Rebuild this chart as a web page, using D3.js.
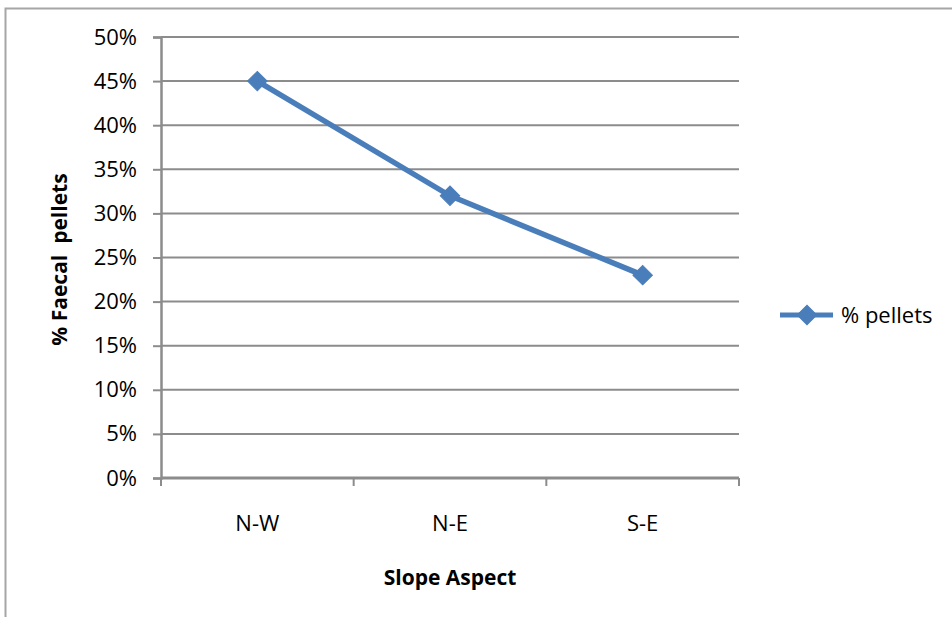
<!DOCTYPE html>
<html>
<head>
<meta charset="utf-8">
<script src="https://cdn.jsdelivr.net/npm/d3@7"></script>
<style>
  html, body { margin: 0; padding: 0; background: #fff; }
  svg { display: block; }
  text { font-family: "Open Sans", "Noto Sans", sans-serif; fill: #000; }
</style>
</head>
<body>
<script>
// Share of faecal pellets by slope aspect
const categories = ["N-W", "N-E", "S-E"];
const pellets = [0.45, 0.32, 0.23];
const yTicks = [0, 0.05, 0.10, 0.15, 0.20, 0.25, 0.30, 0.35, 0.40, 0.45, 0.50];
const seriesName = "% pellets";
const xTitle = "Slope Aspect";
const yTitle = "% Faecal  pellets";

const W = 952, H = 617;
const plot = { left: 161, right: 739, top: 37, bottom: 478 };
const blue = "#4a7ebb";
const grey = "#8c8c8c";
const labelSize = "22px";
const titleSize = "21px";

const svg = d3.select("body").append("svg").attr("width", W).attr("height", H);

// chart frame
svg.append("rect")
  .attr("x", 5.5).attr("y", 8.5)
  .attr("width", W + 10).attr("height", H + 10)
  .attr("fill", "none").attr("stroke", "#a6a6a6").attr("stroke-width", 2);

const x = d3.scaleBand().domain(categories).range([plot.left, plot.right]);
const y = d3.scaleLinear().domain([0, 0.5]).range([plot.bottom, plot.top]);

// horizontal gridlines
svg.append("g").selectAll("line").data(yTicks.filter(d => d > 0)).join("line")
  .attr("x1", plot.left).attr("x2", plot.right)
  .attr("y1", d => y(d)).attr("y2", d => y(d))
  .attr("stroke", grey).attr("stroke-width", 2);

// y axis
const yAxis = svg.append("g").attr("transform", `translate(${plot.left},0)`)
  .call(d3.axisLeft(y).tickValues(yTicks).tickFormat(d3.format(".0%")).tickSize(8).tickPadding(16));
yAxis.select(".domain").attr("stroke", grey).attr("stroke-width", 2.5);
yAxis.selectAll(".tick line").attr("stroke", grey).attr("stroke-width", 2);
yAxis.selectAll(".tick text").style("font-size", labelSize).attr("fill", "#000");

// x axis with tick marks at category boundaries
const xAxisG = svg.append("g").attr("transform", `translate(0,${plot.bottom})`);
xAxisG.append("line")
  .attr("x1", plot.left).attr("x2", plot.right)
  .attr("stroke", grey).attr("stroke-width", 3);
const bounds = categories.map(c => x(c)).concat([x(categories[categories.length - 1]) + x.bandwidth()]);
xAxisG.selectAll("line.tk").data(bounds).join("line").attr("class", "tk")
  .attr("x1", d => d).attr("x2", d => d).attr("y1", 0).attr("y2", 8)
  .attr("stroke", grey).attr("stroke-width", 2);
xAxisG.selectAll("text").data(categories).join("text")
  .attr("x", d => x(d) + x.bandwidth() / 2).attr("y", 53)
  .attr("text-anchor", "middle").style("font-size", labelSize).text(d => d);

// axis titles
svg.append("text").attr("x", (plot.left + plot.right) / 2).attr("y", 585)
  .attr("text-anchor", "middle").style("font-size", titleSize).style("font-weight", "bold")
  .text(xTitle);
svg.append("text").attr("transform", `translate(67,${(plot.top + plot.bottom) / 2 + 2}) rotate(-90)`)
  .attr("text-anchor", "middle").style("font-size", titleSize).style("font-weight", "bold")
  .style("white-space", "pre").text(yTitle);

// series line and markers
const line = d3.line().x((d, i) => x(categories[i]) + x.bandwidth() / 2).y(d => y(d));
svg.append("path").datum(pellets).attr("d", line)
  .attr("fill", "none").attr("stroke", blue).attr("stroke-width", 5.5).attr("stroke-linejoin", "round");

const marker = d3.symbol().type(d3.symbolSquare).size(190);
svg.append("g").selectAll("path").data(pellets).join("path")
  .attr("transform", (d, i) => `translate(${x(categories[i]) + x.bandwidth() / 2},${y(d)}) rotate(45)`)
  .attr("d", marker)
  .attr("fill", blue).attr("stroke", blue).attr("stroke-width", 1);

// legend
const lg = svg.append("g").attr("transform", "translate(780,315)");
lg.append("line").attr("x1", 0).attr("x2", 53).attr("stroke", blue).attr("stroke-width", 5);
lg.append("path").attr("transform", "translate(27,0) rotate(45)")
  .attr("d", marker)
  .attr("fill", blue).attr("stroke", blue).attr("stroke-width", 1);
lg.append("text").attr("x", 61).attr("y", 8).style("font-size", labelSize).text(seriesName);
</script>
</body>
</html>
